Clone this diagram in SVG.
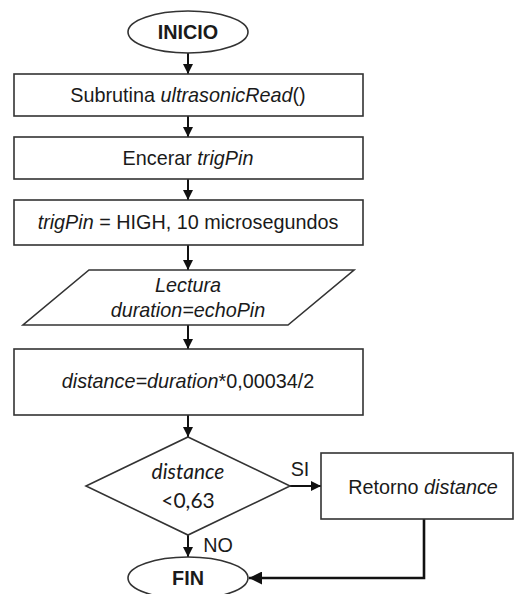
<svg xmlns="http://www.w3.org/2000/svg" width="515" height="594" viewBox="0 0 515 594">
<style>
.s{fill:#fff;stroke:#333;stroke-width:1.6}
.t{font-family:"Liberation Sans",Arial,sans-serif;font-size:19.8px;fill:#1a1a1a;text-anchor:middle}
.b{font-weight:bold}
.c{font-family:Lato,"Noto Sans",sans-serif;font-size:21px;fill:#1a1a1a;text-anchor:middle}
.i{font-style:italic}
.l{fill:none;stroke:#111;stroke-width:2}
.lb{fill:none;stroke:#111;stroke-width:2.6}
</style>
<defs>
<marker id="ah" viewBox="0 0 10 10" refX="10" refY="5" markerWidth="5" markerHeight="5" orient="auto" markerUnits="strokeWidth">
<path d="M0,0L10,5L0,10z" fill="#111"/>
</marker>
</defs>
<rect width="515" height="594" fill="#fff"/>
<g id="connectors">
<line class="l" x1="188" y1="53" x2="188" y2="74" marker-end="url(#ah)"/>
<line class="l" x1="188" y1="116" x2="188" y2="137" marker-end="url(#ah)"/>
<line class="l" x1="188" y1="179" x2="188" y2="200" marker-end="url(#ah)"/>
<line class="l" x1="188" y1="245" x2="188" y2="270" marker-end="url(#ah)"/>
<line class="l" x1="188" y1="325" x2="188" y2="349" marker-end="url(#ah)"/>
<line class="l" x1="188" y1="415" x2="188" y2="437" marker-end="url(#ah)"/>
<line class="l" x1="188" y1="535" x2="188" y2="557" marker-end="url(#ah)"/>
<line class="l" x1="290" y1="486" x2="321" y2="486" marker-end="url(#ah)"/>
<polyline class="lb" points="424,519 424,578 249,578" marker-end="url(#ah)"/>
<text class="t" x="300" y="476">SI</text>
<text class="t" x="218" y="552">NO</text>
</g>
<g id="inicio">
<ellipse class="s" cx="188" cy="32" rx="60" ry="21"/>
<text class="t b" x="188" y="39">INICIO</text>
</g>
<g id="subrutina">
<rect class="s" x="14" y="74" width="349" height="42"/>
<text class="t" x="188" y="102">Subrutina <tspan class="i">ultrasonicRead</tspan>()</text>
</g>
<g id="encerar">
<rect class="s" x="14" y="137" width="349" height="42"/>
<text class="t" x="188" y="165">Encerar <tspan class="i">trigPin</tspan></text>
</g>
<g id="trig">
<rect class="s" x="14" y="200" width="349" height="45"/>
<text class="t" x="188" y="229"><tspan class="i">trigPin</tspan> = HIGH, 10 microsegundos</text>
</g>
<g id="lectura">
<polygon class="s" points="89,270 354,270 288,325 23,325"/>
<text class="t i" x="188" y="292">Lectura</text>
<text class="t i" x="188" y="317">duration=echoPin</text>
</g>
<g id="calculo">
<rect class="s" x="14" y="349" width="349" height="66"/>
<text class="t" x="188" y="388"><tspan class="i">distance=duration</tspan>*0,00034/2</text>
</g>
<g id="decision">
<polygon class="s" points="188,437 290,486 188,535 86,486"/>
<text class="c i" x="188" y="479">distance</text>
<text class="c" x="188" y="508">&lt;0,63</text>
</g>
<g id="retorno">
<rect class="s" x="321" y="453" width="192" height="66"/>
<text class="t" x="423" y="494">Retorno <tspan class="i">distance</tspan></text>
</g>
<g id="fin">
<ellipse class="s" cx="188" cy="578" rx="60" ry="21"/>
<text class="t b" x="188" y="585">FIN</text>
</g>
</svg>
